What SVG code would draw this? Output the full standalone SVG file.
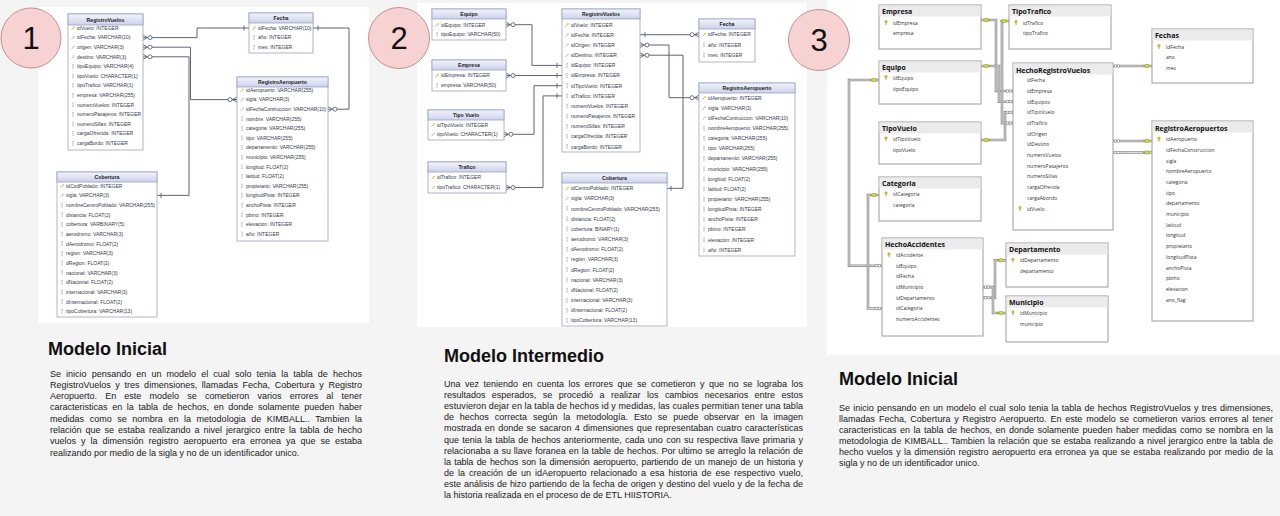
<svg xmlns="http://www.w3.org/2000/svg" width="1280" height="516" viewBox="0 0 1280 516">
<style>
.pn{fill:#fff}
.tb{fill:#fff;stroke:#9aa3c4;stroke-width:.8}
.th{fill:url(#hg);stroke:#9aa3c4;stroke-width:.8}
.tt{font-family:"Liberation Sans",Arial,sans-serif;font-size:5.2px;font-weight:bold;fill:#222;text-anchor:middle}
.f{font-family:"Liberation Sans",Arial,sans-serif;font-size:5px;fill:#343a4c}
.cn{fill:none;stroke:#4b5368;stroke-width:.9}
.tb3{fill:#fff;stroke:#9c9c9c;stroke-width:1}
.th3{fill:#ebebeb}
.tt3{font-family:"Open Sans","Noto Sans",sans-serif;font-size:7px;font-weight:bold;fill:#111}
.f3{font-family:"Open Sans","Noto Sans",sans-serif;font-size:5px;fill:#333}
.c3a{fill:none;stroke:#8e8e8e;stroke-width:2.6}
.c3b{fill:none;stroke:#e2e2e2;stroke-width:.9}
.num{font-family:"Liberation Sans",Arial,sans-serif;font-size:31px;fill:#111;text-anchor:middle}
.ttl{font-family:"Liberation Sans",Arial,sans-serif;font-size:18px;font-weight:bold;fill:#111}
.bd{font-family:"Liberation Sans",Arial,sans-serif;font-size:9px;fill:#1a1a1a}
.cir{fill:#f7d2d2;stroke:#c98f8f;stroke-width:1}
</style>
<defs>
<linearGradient id="hg" x1="0" y1="0" x2="0" y2="1"><stop offset="0" stop-color="#f3f4fb"/><stop offset="1" stop-color="#ccd2ec"/></linearGradient>
<g id="pk"><path d="M-1.4 1.8 L0.6 -0.4" stroke="#e0a020" stroke-width="0.9"/><circle cx="1" cy="-0.9" r="0.9" fill="#f2c040"/></g>
<g id="fk"><path d="M-1.4 1.8 L0.6 -0.4" stroke="#a8aec4" stroke-width="0.9"/><circle cx="1" cy="-0.9" r="0.9" fill="#c4c9da"/></g>
<rect id="at" x="-0.8" y="-2" width="1.6" height="4" fill="none" stroke="#b8bdd0" stroke-width="0.5"/>
<g id="cf" fill="none" stroke="#4b5368" stroke-width="0.8"><path d="M0 -2.5 L4.5 0 M0 2.5 L4.5 0 M0 0 H4.5"/><circle cx="7" cy="0" r="2" fill="#fff"/></g>
<path id="tk" d="M0 -2.6 V2.6" stroke="#4b5368" stroke-width="0.8"/>
<g id="k3"><ellipse rx="2.3" ry="1.8" fill="#d9d935" stroke="#8f8f1c" stroke-width="0.5"/><path d="M2.2 0 H4.2" stroke="#8f8f1c" stroke-width="0.8"/></g>
<g id="m3" fill="#fff" stroke="#6a6a6a" stroke-width="0.5"><circle cx="-1.4" cy="0" r="1.3"/><circle cx="1.4" cy="0" r="1.3"/></g>
<g id="kt"><circle cx="0" cy="-1" r="1.3" fill="#e4c22a" stroke="#a08a10" stroke-width="0.4"/><path d="M0 0.3 V2.4" stroke="#a08a10" stroke-width="0.7"/></g>
</defs>

<rect x="0" y="0" width="1280" height="516" fill="#f4f4f4"/>
<rect class="pn" x="38" y="7" width="331" height="316"/>
<rect class="pn" x="417" y="3" width="390" height="324"/>
<rect class="pn" x="827" y="0" width="453" height="355"/>

<!-- ============ PANEL 1 ============ -->
<g id="p1-connectors">
<use href="#cf" x="143" y="37.6"/>
<path class="cn" d="M152 37.6 H197 V28 H249"/>
<use href="#tk" x="244" y="28"/>
<use href="#tk" x="318" y="28"/>
<path class="cn" d="M313 28 H349 V109.2 H337"/>
<use href="#cf" x="328" y="109.2"/>
<use href="#cf" x="143" y="47.2"/>
<path class="cn" d="M152 47.2 H190.5 V99.6 H237"/>
<use href="#cf" transform="translate(237 99.6) scale(-1 1)"/>
<use href="#cf" x="143" y="56.8"/>
<path class="cn" d="M152 56.8 H189 V195.4 H157"/>
<use href="#tk" x="161" y="195.4"/>
</g>

<g id="p1-RegistroVuelos">
<rect class="tb" x="68" y="14" width="75" height="136"/>
<rect class="th" x="68" y="14" width="75" height="11"/>
<text class="tt" x="105.5" y="21.6">RegistroVuelos</text>
<use href="#pk" x="73" y="28"/><use href="#fk" x="73" y="37.6"/><use href="#fk" x="73" y="47.2"/><use href="#fk" x="73" y="56.8"/>
<use href="#at" x="73" y="66.4"/><use href="#at" x="73" y="76"/><use href="#at" x="73" y="85.6"/><use href="#at" x="73" y="95.2"/><use href="#at" x="73" y="104.8"/><use href="#at" x="73" y="114.4"/><use href="#at" x="73" y="124"/><use href="#at" x="73" y="133.6"/><use href="#at" x="73" y="143.2"/>
<text class="f"><tspan x="77" y="29.8">idVuelo: INTEGER</tspan><tspan x="77" y="39.4">idFecha: VARCHAR(10)</tspan><tspan x="77" y="49">origen: VARCHAR(3)</tspan><tspan x="77" y="58.6">destino: VARCHAR(3)</tspan><tspan x="77" y="68.2">tipoEquipo: VARCHAR(4)</tspan><tspan x="77" y="77.8">tipoVuelo: CHARACTER(1)</tspan><tspan x="77" y="87.4">tipoTrafico: VARCHAR(1)</tspan><tspan x="77" y="97">empresa: VARCHAR(255)</tspan><tspan x="77" y="106.6">numeroVuelos: INTEGER</tspan><tspan x="77" y="116.2">numeroPasajeros: INTEGER</tspan><tspan x="77" y="125.8">numeroSillas: INTEGER</tspan><tspan x="77" y="135.4">cargaOfrecida: INTEGER</tspan><tspan x="77" y="145">cargaBordo: INTEGER</tspan></text>
</g>

<g id="p1-Fecha">
<rect class="tb" x="249" y="13" width="64" height="40"/>
<rect class="th" x="249" y="13" width="64" height="10"/>
<text class="tt" x="281" y="20.2">Fecha</text>
<use href="#pk" x="254" y="28"/><use href="#at" x="254" y="37.6"/><use href="#at" x="254" y="47.2"/>
<text class="f"><tspan x="258" y="29.8">idFecha: VARCHAR(10)</tspan><tspan x="258" y="39.4">año: INTEGER</tspan><tspan x="258" y="49">mes: INTEGER</tspan></text>
</g>

<g id="p1-RegistroAeropuerto">
<rect class="tb" x="237" y="77" width="91" height="164"/>
<rect class="th" x="237" y="77" width="91" height="10"/>
<text class="tt" x="282.5" y="84.2">RegistroAeropuerto</text>
<use href="#pk" x="242" y="90"/><use href="#fk" x="242" y="99.6"/><use href="#fk" x="242" y="109.2"/>
<use href="#at" x="242" y="118.8"/><use href="#at" x="242" y="128.4"/><use href="#at" x="242" y="138"/><use href="#at" x="242" y="147.6"/><use href="#at" x="242" y="157.2"/><use href="#at" x="242" y="166.8"/><use href="#at" x="242" y="176.4"/><use href="#at" x="242" y="186"/><use href="#at" x="242" y="195.6"/><use href="#at" x="242" y="205.2"/><use href="#at" x="242" y="214.8"/><use href="#at" x="242" y="224.4"/><use href="#at" x="242" y="234"/>
<text class="f"><tspan x="246" y="91.8">idAeropuerto: VARCHAR(255)</tspan><tspan x="246" y="101.4">sigla: VARCHAR(3)</tspan><tspan x="246" y="111">idFechaContruccion: VARCHAR(10)</tspan><tspan x="246" y="120.6">nombre: VARCHAR(255)</tspan><tspan x="246" y="130.2">categoria: VARCHAR(255)</tspan><tspan x="246" y="139.8">tipo: VARCHAR(255)</tspan><tspan x="246" y="149.4">departamento: VARCHAR(255)</tspan><tspan x="246" y="159">municipio: VARCHAR(255)</tspan><tspan x="246" y="168.6">longitud: FLOAT(2)</tspan><tspan x="246" y="178.2">latitud: FLOAT(2)</tspan><tspan x="246" y="187.8">propietario: VARCHAR(255)</tspan><tspan x="246" y="197.4">longitudPista: INTEGER</tspan><tspan x="246" y="207">anchoPista: INTEGER</tspan><tspan x="246" y="216.6">pbmo: INTEGER</tspan><tspan x="246" y="226.2">elevacion: INTEGER</tspan><tspan x="246" y="235.8">año: INTEGER</tspan></text>
</g>

<g id="p1-Cobertura">
<rect class="tb" x="57" y="172" width="100" height="145"/>
<rect class="th" x="57" y="172" width="100" height="10"/>
<text class="tt" x="107" y="179.2">Cobertura</text>
<use href="#pk" x="62" y="185.7"/><use href="#fk" x="62" y="195.4"/>
<use href="#at" x="62" y="205"/><use href="#at" x="62" y="214.7"/><use href="#at" x="62" y="224.4"/><use href="#at" x="62" y="234"/><use href="#at" x="62" y="243.7"/><use href="#at" x="62" y="253.4"/><use href="#at" x="62" y="263.1"/><use href="#at" x="62" y="272.7"/><use href="#at" x="62" y="282.4"/><use href="#at" x="62" y="292.1"/><use href="#at" x="62" y="301.7"/><use href="#at" x="62" y="311.4"/>
<text class="f"><tspan x="66" y="187.5">idCodPoblado: INTEGER</tspan><tspan x="66" y="197.2">sigla: VARCHAR(3)</tspan><tspan x="66" y="206.8">nombreCentroPoblado: VARCHAR(255)</tspan><tspan x="66" y="216.5">distancia: FLOAT(2)</tspan><tspan x="66" y="226.2">cobertura: VARBINARY(5)</tspan><tspan x="66" y="235.9">aerodromo: VARCHAR(3)</tspan><tspan x="66" y="245.5">dAerodromo: FLOAT(2)</tspan><tspan x="66" y="255.2">region: VARCHAR(3)</tspan><tspan x="66" y="264.9">dRegion: FLOAT(2)</tspan><tspan x="66" y="274.5">nacional: VARCHAR(3)</tspan><tspan x="66" y="284.2">dNacional: FLOAT(2)</tspan><tspan x="66" y="293.9">internacional: VARCHAR(3)</tspan><tspan x="66" y="303.5">dInternacional: FLOAT(2)</tspan><tspan x="66" y="313.2">tipoCobertura: VARCHAR(13)</tspan></text>
</g>

<!-- ============ PANEL 2 ============ -->
<g id="p2-connectors">
<use href="#cf" x="506" y="24.7"/>
<path class="cn" d="M515 24.7 H532 V65.4 H562"/>
<use href="#tk" x="557" y="65.4"/>
<use href="#cf" x="506" y="75.5"/>
<path class="cn" d="M515 75.5 H562"/>
<use href="#tk" x="557" y="75.5"/>
<use href="#cf" x="504" y="134.3"/>
<path class="cn" d="M513 134.3 H534 V85.7 H562"/>
<use href="#tk" x="557" y="85.7"/>
<use href="#cf" x="506" y="187.5"/>
<path class="cn" d="M515 187.5 H543 V95.9 H562"/>
<use href="#tk" x="557" y="95.9"/>
<use href="#tk" x="645" y="34.7"/>
<path class="cn" d="M640 34.7 H690"/>
<use href="#cf" transform="translate(699 34.7) scale(-1 1)"/>
<use href="#cf" x="640" y="45"/>
<path class="cn" d="M649 45 H669 V97.7 H690"/>
<use href="#cf" transform="translate(699 97.7) scale(-1 1)"/>
<use href="#cf" x="640" y="55.2"/>
<path class="cn" d="M649 55.2 H683 V188.3 H667"/>
<use href="#tk" x="671" y="188.3"/>
</g>

<g id="p2-Equipo">
<rect class="tb" x="432" y="9" width="74" height="31"/>
<rect class="th" x="432" y="9" width="74" height="10"/>
<text class="tt" x="469" y="16.2">Equipo</text>
<use href="#pk" x="437" y="24.7"/><use href="#at" x="437" y="34.5"/>
<text class="f"><tspan x="441" y="26.5">idEquipo: INTEGER</tspan><tspan x="441" y="36.3">tipoEquipo: VARCHAR(50)</tspan></text>
</g>
<g id="p2-Empresa">
<rect class="tb" x="432" y="60" width="74" height="31"/>
<rect class="th" x="432" y="60" width="74" height="10"/>
<text class="tt" x="469" y="67.2">Empresa</text>
<use href="#pk" x="437" y="75.5"/><use href="#at" x="437" y="85.2"/>
<text class="f"><tspan x="441" y="77.3">idEmpresa: INTEGER</tspan><tspan x="441" y="87">empresa: VARCHAR(50)</tspan></text>
</g>
<g id="p2-TipoVuelo">
<rect class="tb" x="428" y="110" width="76" height="30"/>
<rect class="th" x="428" y="110" width="76" height="10"/>
<text class="tt" x="466" y="117.2">Tipo Vuelo</text>
<use href="#pk" x="433" y="124.7"/><use href="#fk" x="433" y="134.3"/>
<text class="f"><tspan x="437" y="126.5">idTipoVuelo: INTEGER</tspan><tspan x="437" y="136.1">tipoVuelo: CHARACTER(1)</tspan></text>
</g>
<g id="p2-Trafico">
<rect class="tb" x="428" y="162" width="78" height="31"/>
<rect class="th" x="428" y="162" width="78" height="10"/>
<text class="tt" x="467" y="169.2">Trafico</text>
<use href="#pk" x="433" y="177.5"/><use href="#fk" x="433" y="187.5"/>
<text class="f"><tspan x="437" y="179.3">idTrafico: INTEGER</tspan><tspan x="437" y="189.3">tipoTrafico: CHARACTER(1)</tspan></text>
</g>

<g id="p2-RegistroVuelos">
<rect class="tb" x="562" y="9" width="78" height="143"/>
<rect class="th" x="562" y="9" width="78" height="10"/>
<text class="tt" x="601" y="16.2">RegistroVuelos</text>
<use href="#pk" x="567" y="24.7"/><use href="#fk" x="567" y="34.9"/><use href="#fk" x="567" y="45"/><use href="#fk" x="567" y="55.2"/>
<use href="#at" x="567" y="65.4"/><use href="#at" x="567" y="75.6"/><use href="#at" x="567" y="85.7"/><use href="#at" x="567" y="95.9"/><use href="#at" x="567" y="106.1"/><use href="#at" x="567" y="116.2"/><use href="#at" x="567" y="126.4"/><use href="#at" x="567" y="136.6"/><use href="#at" x="567" y="146.7"/>
<text class="f"><tspan x="571" y="26.5">idVuelo: INTEGER</tspan><tspan x="571" y="36.7">idFecha: INTEGER</tspan><tspan x="571" y="46.8">idOrigen: INTEGER</tspan><tspan x="571" y="57">idDestino: INTEGER</tspan><tspan x="571" y="67.2">idEquipo: INTEGER</tspan><tspan x="571" y="77.4">idEmpresa: INTEGER</tspan><tspan x="571" y="87.5">idTipoVuelo: INTEGER</tspan><tspan x="571" y="97.7">idTrafico: INTEGER</tspan><tspan x="571" y="107.9">numeroVuelos: INTEGER</tspan><tspan x="571" y="118">numeroPasajeros: INTEGER</tspan><tspan x="571" y="128.2">numeroSillas: INTEGER</tspan><tspan x="571" y="138.4">cargaOfrecida: INTEGER</tspan><tspan x="571" y="148.5">cargaBordo: INTEGER</tspan></text>
</g>

<g id="p2-Fecha">
<rect class="tb" x="699" y="19" width="56" height="43"/>
<rect class="th" x="699" y="19" width="56" height="10"/>
<text class="tt" x="727" y="26.2">Fecha</text>
<use href="#pk" x="704" y="34.6"/><use href="#at" x="704" y="44.8"/><use href="#at" x="704" y="55"/>
<text class="f"><tspan x="708" y="36.4">idFecha: INTEGER</tspan><tspan x="708" y="46.6">año: INTEGER</tspan><tspan x="708" y="56.8">mes: INTEGER</tspan></text>
</g>

<g id="p2-RegistroAeropuerto">
<rect class="tb" x="699" y="83" width="96" height="173"/>
<rect class="th" x="699" y="83" width="96" height="10"/>
<text class="tt" x="747" y="90.2">RegistroAeropuerto</text>
<use href="#pk" x="704" y="97.7"/><use href="#fk" x="704" y="107.85"/><use href="#fk" x="704" y="118"/>
<use href="#at" x="704" y="128.15"/><use href="#at" x="704" y="138.3"/><use href="#at" x="704" y="148.45"/><use href="#at" x="704" y="158.6"/><use href="#at" x="704" y="168.75"/><use href="#at" x="704" y="178.9"/><use href="#at" x="704" y="189.05"/><use href="#at" x="704" y="199.2"/><use href="#at" x="704" y="209.35"/><use href="#at" x="704" y="219.5"/><use href="#at" x="704" y="229.65"/><use href="#at" x="704" y="239.8"/><use href="#at" x="704" y="249.95"/>
<text class="f"><tspan x="708" y="99.5">idAeropuerto: INTEGER</tspan><tspan x="708" y="109.65">sigla: VARCHAR(3)</tspan><tspan x="708" y="119.8">idFechaContruccion: VARCHAR(10)</tspan><tspan x="708" y="129.95">nombreAeropuerto: VARCHAR(255)</tspan><tspan x="708" y="140.1">categoria: VARCHAR(255)</tspan><tspan x="708" y="150.25">tipo: VARCHAR(255)</tspan><tspan x="708" y="160.4">departamento: VARCHAR(255)</tspan><tspan x="708" y="170.55">municipio: VARCHAR(255)</tspan><tspan x="708" y="180.7">longitud: FLOAT(2)</tspan><tspan x="708" y="190.85">latitud: FLOAT(2)</tspan><tspan x="708" y="201">propietario: VARCHAR(255)</tspan><tspan x="708" y="211.15">longitudPista: INTEGER</tspan><tspan x="708" y="221.3">anchoPista: INTEGER</tspan><tspan x="708" y="231.45">pbmo: INTEGER</tspan><tspan x="708" y="241.6">elevacion: INTEGER</tspan><tspan x="708" y="251.75">año: INTEGER</tspan></text>
</g>

<g id="p2-Cobertura">
<rect class="tb" x="562" y="173" width="105" height="153"/>
<rect class="th" x="562" y="173" width="105" height="10"/>
<text class="tt" x="614.5" y="180.2">Cobertura</text>
<use href="#pk" x="567" y="188.3"/><use href="#fk" x="567" y="198.5"/>
<use href="#at" x="567" y="208.7"/><use href="#at" x="567" y="218.8"/><use href="#at" x="567" y="229"/><use href="#at" x="567" y="239.2"/><use href="#at" x="567" y="249.4"/><use href="#at" x="567" y="259.6"/><use href="#at" x="567" y="269.7"/><use href="#at" x="567" y="279.9"/><use href="#at" x="567" y="290.1"/><use href="#at" x="567" y="300.3"/><use href="#at" x="567" y="310.5"/><use href="#at" x="567" y="320.6"/>
<text class="f"><tspan x="571" y="190.1">idCentroPoblado: INTEGER</tspan><tspan x="571" y="200.3">sigla: VARCHAR(3)</tspan><tspan x="571" y="210.5">nombreCentroPoblado: VARCHAR(255)</tspan><tspan x="571" y="220.6">distancia: FLOAT(2)</tspan><tspan x="571" y="230.8">cobertura: BINARY(1)</tspan><tspan x="571" y="241">aerodromo: VARCHAR(3)</tspan><tspan x="571" y="251.2">dAerodromo: FLOAT(2)</tspan><tspan x="571" y="261.4">region: VARCHAR(3)</tspan><tspan x="571" y="271.5">dRegion: FLOAT(2)</tspan><tspan x="571" y="281.7">nacional: VARCHAR(3)</tspan><tspan x="571" y="291.9">dNacional: FLOAT(2)</tspan><tspan x="571" y="302.1">internacional: VARCHAR(3)</tspan><tspan x="571" y="312.3">dInternacional: FLOAT(2)</tspan><tspan x="571" y="322.4">tipoCobertura: VARCHAR(13)</tspan></text>
</g>

<!-- ============ PANEL 3 ============ -->
<g id="p3-connectors">
<path class="c3a" d="M981 20 H996 V91 H1013"/><path class="c3b" d="M981 20 H996 V91 H1013"/>
<path class="c3a" d="M981 66 H999 V101.7 H1013"/><path class="c3b" d="M981 66 H999 V101.7 H1013"/>
<path class="c3a" d="M981 140 H1005 V112.4 H1013"/><path class="c3b" d="M981 140 H1005 V112.4 H1013"/>
<path class="c3a" d="M1009 21 H1002 V123.1 H1013"/><path class="c3b" d="M1009 21 H1002 V123.1 H1013"/>
<path class="c3a" d="M879 80 H849 V265.7 H882"/><path class="c3b" d="M879 80 H849 V265.7 H882"/>
<path class="c3a" d="M879 195 H868 V308.5 H882"/><path class="c3b" d="M879 195 H868 V308.5 H882"/>
<path class="c3a" d="M983 297.8 H995 V260.3 H1006"/><path class="c3b" d="M983 297.8 H995 V260.3 H1006"/>
<path class="c3a" d="M983 287.1 H993 V313 H1006"/><path class="c3b" d="M983 287.1 H993 V313 H1006"/>
<path class="c3a" d="M1113 66 H1152"/><path class="c3b" d="M1113 66 H1152"/>
<path class="c3a" d="M1113 141 H1152"/><path class="c3b" d="M1113 141 H1152"/>
<path class="c3a" d="M1113 152.5 H1152"/><path class="c3b" d="M1113 152.5 H1152"/>
<use href="#k3" x="986" y="20"/><use href="#k3" x="986" y="66"/><use href="#k3" x="986" y="140"/>
<use href="#k3" transform="translate(1004 21) scale(-1 1)"/>
<use href="#k3" transform="translate(874 80) scale(-1 1)"/>
<use href="#k3" transform="translate(874 195) scale(-1 1)"/>
<use href="#k3" transform="translate(1001 260.3) scale(-1 1)"/>
<use href="#k3" transform="translate(1001 313) scale(-1 1)"/>
<use href="#k3" transform="translate(1147 66) scale(-1 1)"/>
<use href="#k3" transform="translate(1147 141) scale(-1 1)"/>
<use href="#k3" transform="translate(1147 152.5) scale(-1 1)"/>
<use href="#m3" x="1009" y="91"/><use href="#m3" x="1009" y="101.7"/><use href="#m3" x="1009" y="112.4"/><use href="#m3" x="1009" y="123.1"/>
<use href="#m3" x="878" y="265.7"/><use href="#m3" x="878" y="308.5"/>
<use href="#m3" x="987" y="297.8"/><use href="#m3" x="987" y="287.1"/>
<use href="#m3" x="1117" y="66"/><use href="#m3" x="1117" y="141"/><use href="#m3" x="1117" y="152.5"/>
</g>

<g id="p3-Empresa">
<rect class="tb3" x="879" y="5" width="102" height="44"/>
<rect class="th3" x="879.5" y="5.5" width="101" height="11"/>
<text class="tt3" x="882" y="14">Empresa</text>
<use href="#kt" x="886" y="22.7"/>
<text class="f3"><tspan x="893" y="24.5">idEmpresa</tspan><tspan x="893" y="35.1">empresa</tspan></text>
</g>
<g id="p3-TipoTrafico">
<rect class="tb3" x="1009" y="5" width="102" height="44"/>
<rect class="th3" x="1009.5" y="5.5" width="101" height="11"/>
<text class="tt3" x="1012" y="14">TipoTrafico</text>
<use href="#kt" x="1016" y="22.7"/>
<text class="f3"><tspan x="1023" y="24.5">idTrafico</tspan><tspan x="1023" y="35.1">tipoTrafico</tspan></text>
</g>
<g id="p3-Equipo">
<rect class="tb3" x="879" y="61" width="102" height="43"/>
<rect class="th3" x="879.5" y="61.5" width="101" height="11"/>
<text class="tt3" x="882" y="70">Equipo</text>
<use href="#kt" x="886" y="77.7"/>
<text class="f3"><tspan x="893" y="79.5">idEquipo</tspan><tspan x="893" y="90.5">tipoEquipo</tspan></text>
</g>
<g id="p3-TipoVuelo">
<rect class="tb3" x="879" y="122" width="102" height="42"/>
<rect class="th3" x="879.5" y="122.5" width="101" height="11"/>
<text class="tt3" x="882" y="131">TipoVuelo</text>
<use href="#kt" x="886" y="139"/>
<text class="f3"><tspan x="893" y="140.8">idTipoVuelo</tspan><tspan x="893" y="151.8">tipoVuelo</tspan></text>
</g>
<g id="p3-Categoria">
<rect class="tb3" x="879" y="177" width="102" height="44"/>
<rect class="th3" x="879.5" y="177.5" width="101" height="11"/>
<text class="tt3" x="882" y="186">Categoria</text>
<use href="#kt" x="886" y="194"/>
<text class="f3"><tspan x="893" y="195.8">idCategoria</tspan><tspan x="893" y="206.5">categoria</tspan></text>
</g>
<g id="p3-HechoAccidentes">
<rect class="tb3" x="882" y="238" width="101" height="98"/>
<rect class="th3" x="882.5" y="238.5" width="100" height="11"/>
<text class="tt3" x="885" y="247">HechoAccidentes</text>
<use href="#kt" x="889" y="255"/>
<text class="f3"><tspan x="896" y="256.8">idAccidente</tspan><tspan x="896" y="267.5">idEquipo</tspan><tspan x="896" y="278.2">idFecha</tspan><tspan x="896" y="288.9">idMunicipio</tspan><tspan x="896" y="299.6">idDepartamento</tspan><tspan x="896" y="310.3">idCategoria</tspan><tspan x="896" y="321">numeroAccidentes</tspan></text>
</g>
<g id="p3-Departamento">
<rect class="tb3" x="1006" y="243" width="102" height="44"/>
<rect class="th3" x="1006.5" y="243.5" width="101" height="11"/>
<text class="tt3" x="1009" y="252">Departamento</text>
<use href="#kt" x="1013" y="260.3"/>
<text class="f3"><tspan x="1020" y="262.1">idDepartamento</tspan><tspan x="1020" y="272.8">departamento</tspan></text>
</g>
<g id="p3-Municipio">
<rect class="tb3" x="1006" y="296" width="102" height="46"/>
<rect class="th3" x="1006.5" y="296.5" width="101" height="11"/>
<text class="tt3" x="1009" y="305">Municipio</text>
<use href="#kt" x="1013" y="313"/>
<text class="f3"><tspan x="1020" y="314.8">idMunicipio</tspan><tspan x="1020" y="325.8">municipio</tspan></text>
</g>
<g id="p3-HechoRegistroVuelos">
<rect class="tb3" x="1013" y="63" width="100" height="167"/>
<rect class="th3" x="1013.5" y="63.5" width="99" height="11"/>
<text class="tt3" x="1016" y="72.5">HechoRegistroVuelos</text>
<use href="#kt" x="1020" y="208.7"/>
<text class="f3"><tspan x="1027" y="82.1">idFecha</tspan><tspan x="1027" y="92.8">idEmpresa</tspan><tspan x="1027" y="103.5">idEquipos</tspan><tspan x="1027" y="114.2">idTipoVuelo</tspan><tspan x="1027" y="124.9">idTrafico</tspan><tspan x="1027" y="135.6">idOrigen</tspan><tspan x="1027" y="146.3">idDestino</tspan><tspan x="1027" y="157">numeroVuelos</tspan><tspan x="1027" y="167.7">numeroPasajeros</tspan><tspan x="1027" y="178.4">numeroSillas</tspan><tspan x="1027" y="189.1">cargaOfrecida</tspan><tspan x="1027" y="199.8">cargaAbordo</tspan><tspan x="1027" y="210.5">idVuelo</tspan></text>
</g>
<g id="p3-Fechas">
<rect class="tb3" x="1152" y="29" width="101" height="54"/>
<rect class="th3" x="1152.5" y="29.5" width="100" height="11"/>
<text class="tt3" x="1155" y="38">Fechas</text>
<use href="#kt" x="1159" y="46.7"/>
<text class="f3"><tspan x="1166" y="48.5">idFecha</tspan><tspan x="1166" y="59.1">ano</tspan><tspan x="1166" y="69.8">mes</tspan></text>
</g>
<g id="p3-RegistroAeropuertos">
<rect class="tb3" x="1152" y="121" width="101" height="200"/>
<rect class="th3" x="1152.5" y="121.5" width="100" height="11"/>
<text class="tt3" x="1155" y="130.5">RegistroAeropuertos</text>
<use href="#kt" x="1159" y="139.3"/>
<text class="f3"><tspan x="1166" y="141.1">idAeropuerto</tspan><tspan x="1166" y="151.8">idFechaConstruccion</tspan><tspan x="1166" y="162.5">sigla</tspan><tspan x="1166" y="173.2">nombreAeropuerto</tspan><tspan x="1166" y="183.9">categoria</tspan><tspan x="1166" y="194.6">tipo</tspan><tspan x="1166" y="205.3">departamento</tspan><tspan x="1166" y="216">municipio</tspan><tspan x="1166" y="226.7">latitud</tspan><tspan x="1166" y="237.4">longitud</tspan><tspan x="1166" y="248.1">propietario</tspan><tspan x="1166" y="258.8">longitudPista</tspan><tspan x="1166" y="269.5">anchoPista</tspan><tspan x="1166" y="280.2">pbmo</tspan><tspan x="1166" y="290.9">elevacion</tspan><tspan x="1166" y="301.6">ano_flag</tspan></text>
</g>

<!-- number badges -->
<g id="badge1"><circle class="cir" cx="31" cy="38" r="30"/><text class="num" x="31" y="49">1</text></g>
<g id="badge2"><circle class="cir" cx="399" cy="38" r="30.5"/><text class="num" x="399" y="49">2</text></g>
<g id="badge3"><circle class="cir" cx="819" cy="40" r="30.5"/><text class="num" x="819" y="51">3</text></g>

<!-- text blocks -->
<g id="text1">
<text class="ttl" x="48" y="355">Modelo Inicial</text>
<text class="bd" x="50" y="376.5" style="word-spacing:2.6px" textLength="312" lengthAdjust="spacing">Se inicio pensando en un modelo el cual solo tenia la tabla de hechos</text>
<text class="bd" x="50" y="387.8" style="word-spacing:2.1px" textLength="312" lengthAdjust="spacing">RegistroVuelos y tres dimensiones, llamadas Fecha, Cobertura y Registro</text>
<text class="bd" x="50" y="399.1" style="word-spacing:5.7px" textLength="312" lengthAdjust="spacing">Aeropuerto. En este modelo se cometieron varios errores al tener</text>
<text class="bd" x="50" y="410.4" style="word-spacing:2.2px" textLength="312" lengthAdjust="spacing">caracteristicas en la tabla de hechos, en donde solamente pueden haber</text>
<text class="bd" x="50" y="421.7" style="word-spacing:3px" textLength="312" lengthAdjust="spacing">medidas como se nombra en la metodologia de KIMBALL.. Tambien la</text>
<text class="bd" x="50" y="433" style="word-spacing:1.5px" textLength="312" lengthAdjust="spacing">relación que se estaba realizando a nivel jerargico entre la tabla de hecho</text>
<text class="bd" x="50" y="444.3" style="word-spacing:2.5px" textLength="312" lengthAdjust="spacing">vuelos y la dimensión registro aeropuerto era erronea ya que se estaba</text>
<text class="bd" x="50" y="455.6">realizando por medio de la sigla y no de un identificador unico.</text>
</g>
<g id="text2">
<text class="ttl" x="444" y="361.5">Modelo Intermedio</text>
<text class="bd" x="444" y="387" style="word-spacing:2px" textLength="359" lengthAdjust="spacing">Una vez teniendo en cuenta los errores que se cometieron y que no se lograba los</text>
<text class="bd" x="444" y="398.1" style="word-spacing:4px" textLength="359" lengthAdjust="spacing">resultados esperados, se procedió a realizar los cambios necesarios entre estos</text>
<text class="bd" x="444" y="409.2" textLength="359" lengthAdjust="spacing">estuvieron dejar en la tabla de hechos id y medidas, las cuales permitian tener una tabla</text>
<text class="bd" x="444" y="420.3" style="word-spacing:3.4px" textLength="359" lengthAdjust="spacing">de hechos correcta según la metodología. Esto se puede observar en la imagen</text>
<text class="bd" x="444" y="431.4" style="word-spacing:0.8px" textLength="359" lengthAdjust="spacing">mostrada en donde se sacaron 4 dimensiones que representaban cuatro características</text>
<text class="bd" x="444" y="442.5" style="word-spacing:0.8px" textLength="359" lengthAdjust="spacing">que tenia la tabla de hechos anteriormente, cada uno con su respectiva llave primaria y</text>
<text class="bd" x="444" y="453.6" style="word-spacing:0.4px" textLength="359" lengthAdjust="spacing">relacionaba a su llave foranea en la table de hechos. Por ultimo se arreglo la relación de</text>
<text class="bd" x="444" y="464.7" style="word-spacing:1px" textLength="359" lengthAdjust="spacing">la tabla de hechos son la dimensión aeropuerto, partiendo de un manejo de un historia y</text>
<text class="bd" x="444" y="475.8" style="word-spacing:1.5px" textLength="359" lengthAdjust="spacing">de la creación de un idAeropuerto relacionado a esa historia de ese respectivo vuelo,</text>
<text class="bd" x="444" y="486.9" style="word-spacing:0.5px" textLength="359" lengthAdjust="spacing">este análisis de hizo partiendo de la fecha de origen y destino del vuelo y de la fecha de</text>
<text class="bd" x="444" y="498">la historia realizada en el proceso de de ETL HIISTORIA.</text>
</g>
<g id="text3">
<text class="ttl" x="839" y="385">Modelo Inicial</text>
<text class="bd" x="839" y="411" style="word-spacing:0.7px" textLength="434" lengthAdjust="spacing">Se inicio pensando en un modelo el cual solo tenia la tabla de hechos RegistroVuelos y tres dimensiones,</text>
<text class="bd" x="839" y="422" style="word-spacing:1.3px" textLength="434" lengthAdjust="spacing">llamadas Fecha, Cobertura y Registro Aeropuerto. En este modelo se cometieron varios errores al tener</text>
<text class="bd" x="839" y="433" style="word-spacing:1px" textLength="434" lengthAdjust="spacing">caracteristicas en la tabla de hechos, en donde solamente pueden haber medidas como se nombra en la</text>
<text class="bd" x="839" y="444" style="word-spacing:0.6px" textLength="434" lengthAdjust="spacing">metodologia de KIMBALL.. Tambien la relación que se estaba realizando a nivel jerargico entre la tabla de</text>
<text class="bd" x="839" y="455" style="word-spacing:0.8px" textLength="434" lengthAdjust="spacing">hecho vuelos y la dimensión registro aeropuerto era erronea ya que se estaba realizando por medio de la</text>
<text class="bd" x="839" y="466">sigla y no de un identificador unico.</text>
</g>
</svg>
